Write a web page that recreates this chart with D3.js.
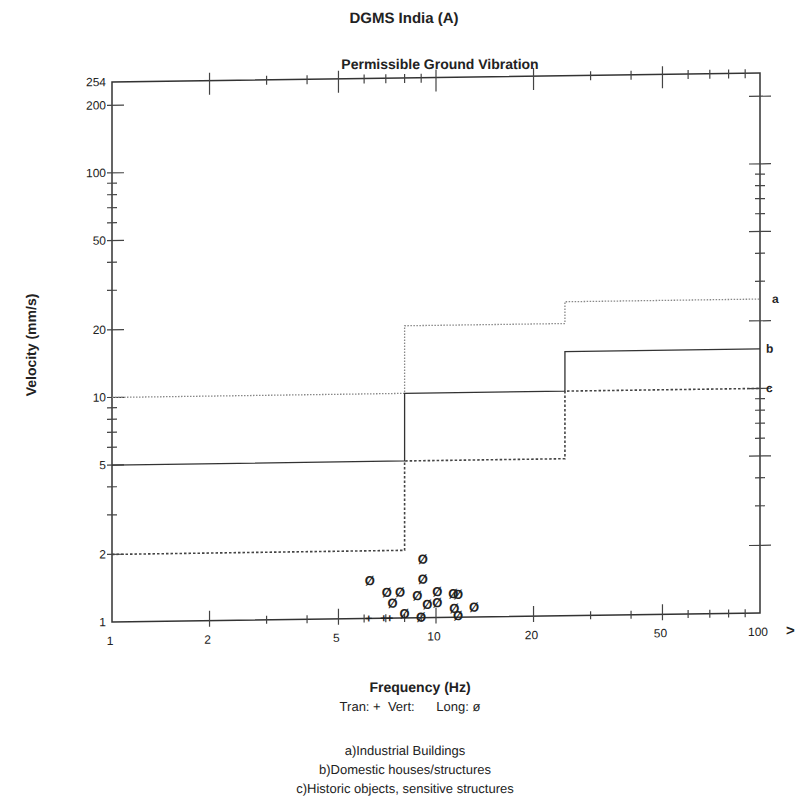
<!DOCTYPE html>
<html>
<head>
<meta charset="utf-8">
<script src="https://cdn.jsdelivr.net/npm/d3@7"></script>
<style>
  body { margin: 0; background: #fff; }
  text { font-family: "Liberation Sans", Arial, sans-serif; fill: #222; text-rendering: geometricPrecision; }
</style>
</head>
<body>
<svg id="chart" width="812" height="811"></svg>
<script>

// frequency (Hz) and velocity (mm/s) axis ticks
var freqLabels = [1, 2, 5, 10, 20, 50, 100];
var velLabels = [1, 2, 5, 10, 20, 50, 100, 200, 254];

// permissible limit steps: frequency break points and the level on each band
var limitFreq = [1, 8, 25, 100];
var limitA = [10, 20, 25, 25];   // a) industrial buildings
var limitB = [5, 10, 15, 15];    // b) domestic houses / structures
var limitC = [2, 5, 10, 10];     // c) historic objects, sensitive structures
var limitNames = ["a", "b", "c"];

// measured events, longitudinal (Ø)
var longFreq = [6.25, 9.1, 9.1, 7.05, 7.75, 7.35, 8.75, 10.1, 9.4, 10.1, 8.0, 9.0, 11.3, 11.7, 11.4, 11.7, 13.1];
var longVel  = [1.48, 1.83, 1.49, 1.31, 1.31, 1.17, 1.26, 1.31, 1.15, 1.17, 1.05, 1.01, 1.28, 1.27, 1.10, 1.02, 1.11];

// measured events, transverse (+)
var tranFreq = [6.2, 6.9, 7.2];
var tranVel  = [1.0, 1.0, 1.0];

function drawChart() {

    var svg = d3.select("#chart");

    var pLeft = 112, pRight = 760, pTop = 82, pBottom = 622;

    var x = d3.scaleLog().domain([1, 100]).range([pLeft, pRight]);
    var y = d3.scaleLog().domain([1, 254]).range([pBottom, pTop]);

    // the scanned sheet is slightly sheared
    var plot = svg.append("g")
        .attr("transform", "translate(" + pLeft + ",0) skewY(-0.8) translate(" + (-pLeft) + ",0)");

    function decadeTicks(lo, hi) {
        var out = [];
        for (var d = 1; d < hi; d *= 10) {
            for (var k = 1; k < 10; k++) {
                var v = d * k;
                if (v >= lo && v <= hi) out.push(v);
            }
        }
        return out;
    }
    function isMajor(v) {
        var m = v / Math.pow(10, Math.floor(Math.log10(v) + 1e-9));
        m = Math.round(m * 1000) / 1000;
        return m === 1 || m === 2 || m === 5;
    }

    var xt = decadeTicks(1, 100);
    var yt = decadeTicks(1, 200);

    // frame
    plot.append("rect")
        .attr("x", pLeft).attr("y", pTop)
        .attr("width", pRight - pLeft).attr("height", pBottom - pTop)
        .attr("fill", "none")
        .attr("stroke", "#333")
        .attr("stroke-width", 1.5);

    var ticks = plot.append("g").attr("stroke", "#444").attr("stroke-width", 1.2);

    // bottom and top ticks
    xt.forEach(function(v) {
        if (v === 1 || v === 100) return;
        var big = isMajor(v);
        ticks.append("line")
            .attr("x1", x(v)).attr("x2", x(v))
            .attr("y1", pBottom - (big ? 10 : 4)).attr("y2", pBottom + (big ? 6 : 4));
        ticks.append("line")
            .attr("x1", x(v)).attr("x2", x(v))
            .attr("y1", pTop - (big ? 8 : 4)).attr("y2", pTop + (big ? 14 : 5));
    });

    // left and right ticks
    yt.forEach(function(v) {
        if (v === 1) return;
        var big = isMajor(v);
        ticks.append("line")
            .attr("x1", pLeft - 5).attr("x2", pLeft + (big ? 12 : 5))
            .attr("y1", y(v)).attr("y2", y(v));
        ticks.append("line")
            .attr("x1", pRight - (big ? 11 : 5)).attr("x2", pRight + (big ? 11 : 5))
            .attr("y1", y(v)).attr("y2", y(v));
    });

    // tick labels
    plot.append("g").selectAll("text")
        .data(freqLabels)
        .join("text")
        .attr("x", function(d) { return x(d) - 2; })
        .attr("y", pBottom + 23)
        .attr("text-anchor", "middle")
        .attr("font-size", 12)
        .text(function(d) { return d; });

    plot.append("g").selectAll("text")
        .data(velLabels)
        .join("text")
        .attr("x", pLeft - 6)
        .attr("y", function(d) { return y(d) + 4; })
        .attr("text-anchor", "end")
        .attr("font-size", 12)
        .text(function(d) { return d; });

    plot.append("text")
        .attr("x", pRight + 26).attr("y", pBottom + 23)
        .attr("font-size", 15)
        .attr("font-weight", "bold")
        .text(">");

    // limit curves
    var step = d3.line()
        .x(function(d) { return x(d[0]); })
        .y(function(d) { return y(d[1]); })
        .curve(d3.curveStepAfter);

    var limits = [limitA, limitB, limitC];
    var limitStyle = [
        { stroke: "#888", width: 1.3, dash: "1.5,1.5" },
        { stroke: "#333", width: 1.3, dash: null },
        { stroke: "#444", width: 1.6, dash: "2.5,2" }
    ];

    limits.forEach(function(vals, i) {
        var pts = limitFreq.map(function(f, j) { return [f, vals[j]]; });
        plot.append("path")
            .attr("d", step(pts))
            .attr("fill", "none")
            .attr("stroke", limitStyle[i].stroke)
            .attr("stroke-width", limitStyle[i].width)
            .attr("stroke-dasharray", limitStyle[i].dash);
        plot.append("text")
            .attr("x", pRight + (i === 0 ? 12 : 6))
            .attr("y", y(vals[vals.length - 1]) + 4)
            .attr("font-size", 12)
            .attr("font-weight", "bold")
            .text(limitNames[i]);
    });

    // events
    plot.append("g").selectAll("text")
        .data(tranFreq)
        .join("text")
        .attr("x", function(d) { return x(d); })
        .attr("y", function(d, i) { return y(tranVel[i]) + 4; })
        .attr("text-anchor", "middle")
        .attr("font-size", 12)
        .attr("font-weight", "bold")
        .text("+");

    plot.append("g").selectAll("text")
        .data(longFreq)
        .join("text")
        .attr("x", function(d) { return x(d); })
        .attr("y", function(d, i) { return y(longVel[i]) + 5; })
        .attr("text-anchor", "middle")
        .attr("font-size", 13)
        .attr("font-weight", "bold")
        .text("\u00D8");

    // titles
    svg.append("text")
        .attr("x", 404).attr("y", 23)
        .attr("text-anchor", "middle")
        .attr("font-size", 15).attr("font-weight", "bold")
        .text("DGMS India (A)");

    svg.append("text")
        .attr("x", 440).attr("y", 69)
        .attr("text-anchor", "middle")
        .attr("font-size", 14).attr("font-weight", "bold")
        .text("Permissible Ground Vibration");

    svg.append("text")
        .attr("transform", "translate(36,345) rotate(-90)")
        .attr("text-anchor", "middle")
        .attr("font-size", 14).attr("font-weight", "bold")
        .text("Velocity (mm/s)");

    svg.append("text")
        .attr("x", 420).attr("y", 692)
        .attr("text-anchor", "middle")
        .attr("font-size", 14).attr("font-weight", "bold")
        .text("Frequency (Hz)");

    svg.append("text")
        .attr("x", 410).attr("y", 711)
        .attr("text-anchor", "middle")
        .attr("font-size", 13)
        .style("white-space", "pre")
        .text("Tran: +  Vert:      Long: \u00F8");

    var notes = ["a)Industrial Buildings", "b)Domestic houses/structures", "c)Historic objects, sensitive structures"];
    svg.append("g").selectAll("text")
        .data(notes)
        .join("text")
        .attr("x", 405)
        .attr("y", function(d, i) { return 755 + i * 19; })
        .attr("text-anchor", "middle")
        .attr("font-size", 13)
        .text(function(d) { return d; });
}

drawChart();

</script>
</body>
</html>
